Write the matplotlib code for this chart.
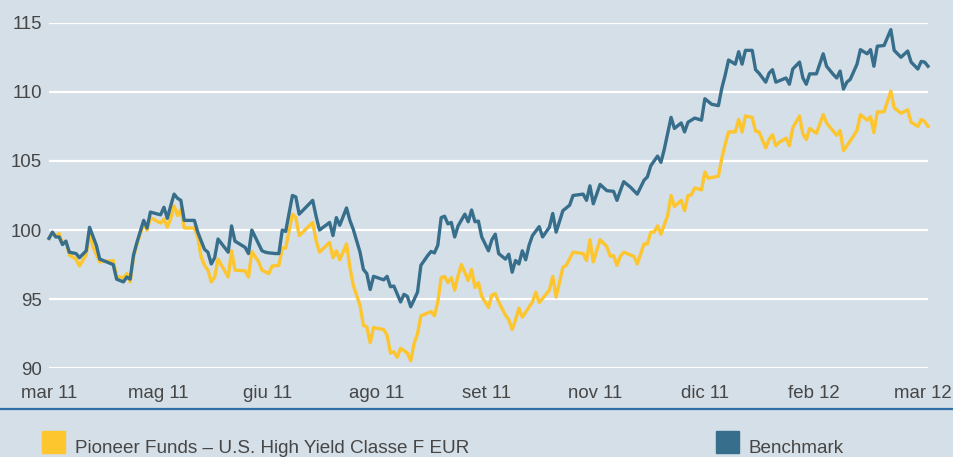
import numpy as np
import matplotlib
matplotlib.use("Agg")
import matplotlib.pyplot as plt
from matplotlib import font_manager
from matplotlib.patches import Rectangle
from matplotlib.lines import Line2D

# trading-day index (0 = start of mar 11) and index level
fund_days = [0, 1, 2, 3, 4, 5, 6, 8, 9, 11, 12, 13, 15, 19, 20, 22, 23, 24, 25, 26,
             28, 29, 30, 33, 34, 35, 36, 37, 38, 39, 40, 43, 44, 45, 46, 47, 48, 49, 50, 53,
             54, 55, 58, 59, 60, 62, 63, 65, 66, 68, 69, 70, 72, 73, 74, 78, 79, 80, 83, 84,
             85, 86, 88, 89, 90, 92, 93, 94, 95, 96, 99, 100, 101, 102, 103, 104, 106, 107, 108, 109,
             110, 113, 114, 115, 116, 117, 118, 119, 120, 121, 122, 124, 125, 126, 127, 128, 130, 131, 132, 133,
             135, 136, 137, 138, 139, 140, 143, 144, 145, 148, 149, 150, 152, 153, 155, 158, 159, 160, 161, 163,
             165, 166, 167, 168, 169, 170, 173, 174, 176, 177, 178, 179, 180, 181, 183, 184, 185, 187, 188, 189,
             190, 191, 193, 194, 195, 198, 199, 200, 201, 203, 204, 205, 206, 208, 209, 210, 212, 213, 214, 215,
             216, 218, 219, 220, 222, 223, 224, 225, 227, 229, 230, 232, 233, 234, 235, 237, 239, 240, 242, 243,
             244, 245, 247, 249, 250, 252, 254, 255, 257, 258, 259, 260]
fund = [99.4, 99.8, 99.55, 99.75, 99.0, 99.2, 98.2, 97.9, 97.4, 98.2, 99.85, 98.8, 97.7, 97.8, 96.65, 96.55, 96.85, 96.25, 98.0, 99.0,
        100.45, 100.0, 100.9, 100.5, 100.8, 100.2, 100.85, 101.75, 101.05, 101.5, 100.15, 100.15, 99.5, 98.05, 97.45, 97.1, 96.25, 96.6, 97.9, 96.6,
        98.5, 97.1, 97.05, 96.6, 98.45, 97.7, 97.1, 96.85, 97.4, 97.45, 98.7, 98.7, 101.15, 100.9, 99.6, 100.55, 99.25, 98.4, 99.1, 98.0,
        98.5, 97.85, 99.0, 97.3, 96.0, 94.55, 93.1, 93.0, 91.85, 92.95, 92.8, 92.4, 91.1, 91.2, 90.8, 91.45, 91.1, 90.55, 91.8, 92.5,
        93.8, 94.1, 93.8, 94.8, 96.55, 96.65, 96.2, 96.55, 95.65, 96.7, 97.5, 96.35, 97.15, 95.85, 96.2, 95.2, 94.4, 95.3, 95.4, 94.8,
        93.85, 93.5, 92.8, 93.5, 94.35, 93.7, 94.8, 95.5, 94.75, 95.65, 96.65, 95.15, 97.3, 97.45, 98.4, 98.3, 97.8, 99.3, 97.7, 99.3,
        98.8, 98.1, 98.15, 97.45, 98.1, 98.4, 98.1, 97.55, 99.0, 99.0, 99.85, 99.85, 100.3, 99.7, 101.05, 102.5, 101.7, 102.15, 101.4, 102.5,
        102.55, 103.05, 102.9, 104.2, 103.75, 103.9, 105.2, 106.2, 107.1, 107.1, 108.0, 107.1, 108.25, 108.15, 107.15, 107.1, 105.95, 106.55, 106.9, 106.1,
        106.35, 106.65, 106.1, 107.4, 108.25, 106.95, 106.55, 107.35, 107.0, 108.35, 107.75, 107.15, 106.85, 107.2, 105.75, 106.45, 107.2, 108.35, 107.95, 108.2,
        107.05, 108.55, 108.55, 110.05, 108.85, 108.45, 108.7, 107.8, 107.5, 108.0, 107.85, 107.5]

bench_days = [0, 1, 2, 3, 4, 5, 6, 8, 9, 11, 12, 14, 15, 19, 20, 22, 23, 24, 25, 26,
              28, 29, 30, 33, 34, 35, 36, 37, 38, 39, 40, 43, 44, 46, 47, 48, 49, 50, 53, 54,
              55, 58, 59, 60, 63, 64, 65, 67, 68, 69, 70, 72, 73, 74, 78, 79, 80, 83, 84, 85,
              86, 88, 89, 90, 92, 93, 94, 95, 96, 99, 100, 101, 102, 104, 105, 106, 107, 109, 110, 112,
              113, 114, 115, 116, 117, 118, 119, 120, 121, 123, 124, 125, 126, 127, 128, 129, 130, 131, 132, 133,
              135, 136, 137, 138, 139, 140, 141, 142, 143, 145, 146, 148, 149, 150, 152, 154, 155, 158, 159, 160,
              161, 163, 165, 167, 168, 169, 170, 172, 174, 176, 177, 178, 180, 181, 182, 184, 185, 187, 188, 189,
              191, 193, 194, 196, 198, 199, 200, 201, 203, 204, 205, 206, 208, 209, 210, 212, 213, 214, 215, 218,
              219, 220, 222, 223, 224, 225, 227, 229, 230, 232, 233, 234, 235, 236, 237, 239, 240, 242, 243, 244,
              245, 247, 249, 250, 252, 254, 255, 257, 258, 259, 260]
bench = [99.4, 99.85, 99.5, 99.5, 98.95, 99.2, 98.4, 98.3, 98.0, 98.5, 100.2, 98.9, 97.9, 97.5, 96.45, 96.25, 96.6, 96.45, 98.2, 99.1,
         100.7, 100.15, 101.3, 101.1, 101.65, 100.85, 101.75, 102.6, 102.3, 102.15, 100.7, 100.7, 99.85, 98.6, 98.4, 97.55, 98.0, 99.35, 98.4, 100.3,
         99.2, 98.75, 98.3, 100.0, 98.5, 98.4, 98.35, 98.3, 98.3, 100.0, 99.9, 102.5, 102.4, 101.15, 102.15, 101.0, 100.0, 100.55, 99.6, 100.9,
         100.35, 101.6, 100.7, 100.05, 98.4, 97.15, 96.85, 95.7, 96.65, 96.4, 96.65, 95.9, 95.95, 94.8, 95.35, 95.2, 94.45, 95.5, 97.45, 98.15,
         98.45, 98.35, 98.9, 100.9, 101.0, 100.45, 100.55, 99.5, 100.3, 101.15, 100.6, 101.45, 100.6, 100.65, 99.5, 99.0, 98.5, 99.3, 99.7, 98.3,
         97.9, 98.25, 96.95, 97.8, 97.55, 98.5, 97.85, 98.9, 99.6, 100.25, 99.5, 100.2, 101.2, 99.85, 101.4, 101.8, 102.5, 102.6, 102.15, 103.2,
         101.9, 103.3, 102.85, 102.8, 102.15, 102.85, 103.5, 103.1, 102.6, 103.6, 103.85, 104.65, 105.35, 104.9, 105.85, 108.15, 107.35, 107.75, 107.1, 107.8,
         108.1, 107.95, 109.5, 109.1, 109.0, 110.25, 111.2, 112.3, 112.0, 112.9, 112.0, 113.0, 113.0, 111.6, 111.35, 110.7, 111.35, 111.6, 110.7, 111.0,
         110.55, 111.65, 112.15, 111.0, 110.55, 111.3, 111.3, 112.75, 111.85, 111.25, 111.0, 111.5, 110.2, 110.7, 110.9, 112.0, 113.05, 112.75, 113.05, 111.85,
         113.3, 113.35, 114.5, 113.0, 112.5, 112.95, 112.15, 111.65, 112.2, 112.15, 111.85]

tick_labels = ["mar 11", "mag 11", "giu 11", "ago 11", "set 11", "nov 11", "dic 11", "feb 12", "mar 12"]
y_ticks = [90, 95, 100, 105, 110, 115]
fund_name = "Pioneer Funds \u2013 U.S. High Yield Classe F EUR"
bench_name = "Benchmark"

BG = "#d5dfe7"
YELLOW = "#fdc52e"
BLUE = "#376e8b"
TEXT = "#464646"

installed = {f.name for f in font_manager.fontManager.ttflist}
narrow = "Liberation Sans Narrow" if "Liberation Sans Narrow" in installed else None
legend_size = 15.5 if narrow else 13.6
plt.rcParams["font.family"] = ["Liberation Sans", "DejaVu Sans"]

fig = plt.figure(figsize=(9.54, 4.57), dpi=100, facecolor=BG)
ax = fig.add_axes([49 / 954, 88.7 / 457, 879 / 954, 345.6 / 457])
ax.set_facecolor(BG)

ax.plot(fund_days, fund, color=YELLOW, lw=2.4, solid_joinstyle="round", clip_on=False, zorder=3)
ax.plot(bench_days, bench, color=BLUE, lw=2.4, solid_joinstyle="round", clip_on=False, zorder=4)

ax.set_xlim(0, 260)
ax.set_ylim(90, 115)
ax.set_yticks(y_ticks)
ax.set_yticklabels([str(v) for v in y_ticks])
ax.set_xticks(np.linspace(0, 258.6, len(tick_labels)))
ax.set_xticklabels(tick_labels)
ax.grid(axis="y", color="white", lw=1.6, zorder=1)
ax.grid(axis="x", visible=False)
for s in ax.spines.values():
    s.set_visible(False)
ax.tick_params(axis="both", length=0, labelsize=13.4, labelcolor=TEXT)
ax.tick_params(axis="y", pad=5)
ax.tick_params(axis="x", pad=12)

# rule under the axis
fig.add_artist(Line2D([0, 1], [48.3 / 457, 48.3 / 457], color="#2f6fa7", lw=1.6,
                      transform=fig.transFigure))

# legend drawn as coloured squares + text
leg_font = {"fontsize": legend_size, "color": TEXT, "va": "baseline"}
if narrow:
    leg_font["family"] = narrow
fig.add_artist(Rectangle((42 / 954, 4 / 457), 23 / 954, 22 / 457, color=YELLOW,
                         transform=fig.transFigure))
fig.text(75 / 954, 4 / 457, fund_name, **leg_font)
fig.add_artist(Rectangle((716 / 954, 4 / 457), 23 / 954, 22 / 457, color=BLUE,
                         transform=fig.transFigure))
fig.text(749 / 954, 4 / 457, bench_name, **leg_font)

fig.savefig("out.png", dpi=100, facecolor=BG)
